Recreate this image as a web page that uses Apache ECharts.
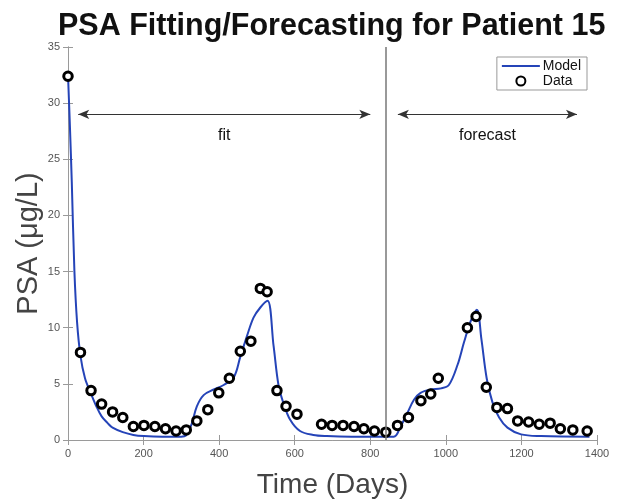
<!DOCTYPE html>
<html>
<head>
<meta charset="utf-8">
<script src="https://cdn.jsdelivr.net/npm/echarts@6/dist/echarts.min.js"></script>
<style>html,body{margin:0;padding:0;background:#fff}#chart{width:640px;height:504px}</style>
</head>
<body>
<div id="chart"></div>
<script>
// Observed PSA data [day, PSA µg/L]
const dataDays = [0,33,61,89,118,145,173,201,230,258,286,313,341,370,399,427,456,484,509,527,553,577,606,671,699,728,757,783,811,841,872,901,934,960,980,1057,1080,1107,1135,1163,1190,1219,1247,1276,1303,1336,1374];
const dataPSA  = [32.4,7.8,4.4,3.2,2.5,2.0,1.2,1.3,1.2,1.0,0.8,0.9,1.7,2.7,4.2,5.5,7.9,8.8,13.5,13.2,4.4,3.0,2.3,1.4,1.3,1.3,1.2,1.0,0.8,0.7,1.3,2.0,3.5,4.1,5.5,10.0,11.0,4.7,2.9,2.8,1.7,1.6,1.4,1.5,1.0,0.9,0.8];
// Model curve [day, PSA]
const modelDays = [0,5,10,17,24,33,45,60,75,89,105,118,145,173,201,250,300,312,327,341,359,386,412,439,456,474,491,509,528,544,557,570,588,614,649,685,750,862,880,898,916,933,960,987,1008,1031,1048,1066,1082,1094,1108,1123,1141,1163,1199,1252,1380];
const modelPSA  = [32.5,28,23,15,10.5,7.5,5.5,4.2,3.0,2.1,1.5,1.1,0.7,0.45,0.35,0.3,0.3,0.4,1.4,3.0,4.0,4.5,4.9,5.6,7.4,9.3,10.9,11.8,12.4,8.4,4.9,3.3,1.8,0.8,0.45,0.35,0.3,0.3,1.2,2.4,3.6,4.2,4.5,4.6,4.9,6.7,8.7,10.6,11.6,9.0,5.5,3.4,2.0,1.1,0.5,0.35,0.3];
// Annotations
const splitDay = 840;
const arrowY = 29;
const fitRange = [27, 800];
const forecastRange = [873, 1347];
const xTicks = {min: 0, max: 1400, interval: 200};
const yTicks = {min: 0, max: 35, interval: 5};

const font = 'Liberation Sans, Arial, Helvetica, sans-serif';
const chart = echarts.init(document.getElementById('chart'), null, {renderer: 'canvas'});
const axisLineStyle = {color: '#9a9a9a', width: 1};
const option = {
  backgroundColor: '#fff',
  animation: false,
  title: {
    text: 'PSA Fitting/Forecasting for Patient 15',
    left: 53, top: 6,
    textStyle: {fontFamily: font, fontWeight: 'bold', fontSize: 30.5, color: '#111'}
  },
  legend: {
    data: [{name: 'Model', icon: 'path://M0,0 L38,0 L38,2.2 L0,2.2 Z'}, {name: 'Data'}],
    orient: 'vertical',
    right: 53, top: 57,
    backgroundColor: '#fff',
    borderColor: '#999', borderWidth: 1,
    padding: [2, 6, 2, 5],
    itemGap: 1,
    itemWidth: 38, itemHeight: 9,
    textStyle: {fontFamily: font, fontSize: 14, lineHeight: 14, color: '#111', padding: [0, 0, 0, -2]}
  },
  grid: {left: 68, right: 43, top: 47, bottom: 58},
  xAxis: [{
    type: 'value', min: xTicks.min, max: xTicks.max, interval: xTicks.interval,
    name: 'Time (Days)', nameLocation: 'middle', nameGap: 31,
    nameTextStyle: {fontFamily: font, fontSize: 28, color: '#444'},
    axisLine: {show: true, lineStyle: axisLineStyle},
    axisTick: {show: true, inside: true, length: 5, lineStyle: axisLineStyle},
    axisLabel: {fontFamily: font, fontSize: 11, color: '#555', margin: 8, formatter: v => String(v)},
    splitLine: {show: false}
  }, {
    type: 'value', position: 'top', min: xTicks.min, max: xTicks.max, interval: xTicks.interval,
    axisLine: {show: true, lineStyle: axisLineStyle},
    axisTick: {show: true, inside: true, length: 5, lineStyle: axisLineStyle},
    axisLabel: {show: false}, splitLine: {show: false}
  }],
  yAxis: [{
    type: 'value', min: yTicks.min, max: yTicks.max, interval: yTicks.interval,
    name: 'PSA (μg/L)', nameLocation: 'middle', nameGap: 25, nameRotate: 90,
    nameMoveOverlap: false,
    nameTextStyle: {fontFamily: font, fontSize: 29, color: '#444'},
    axisLine: {show: true, lineStyle: axisLineStyle},
    axisTick: {show: true, inside: true, length: 5, lineStyle: axisLineStyle},
    axisLabel: {fontFamily: font, fontSize: 11, color: '#555', margin: 8},
    splitLine: {show: false}
  }, {
    type: 'value', position: 'right', min: yTicks.min, max: yTicks.max, interval: yTicks.interval,
    axisLine: {show: true, lineStyle: axisLineStyle},
    axisTick: {show: true, inside: true, length: 5, lineStyle: axisLineStyle},
    axisLabel: {show: false}, splitLine: {show: false}
  }],
  series: [{
    name: 'Annotations', type: 'line', data: [], silent: true,
    markLine: {
      silent: true,
      symbol: ['none', 'none'],
      lineStyle: {color: '#777', width: 1.5, type: 'solid'},
      label: {show: false},
      data: [{xAxis: splitDay}]
    }
  }, {
    name: 'Arrows', type: 'line', data: [], silent: true,
    markLine: {
      silent: true,
      symbol: ['arrow', 'arrow'],
      symbolSize: [7, 11],
      lineStyle: {color: '#333', width: 1, type: 'solid'},
      label: {show: true, position: 'insideMiddleBottom', distance: 13, formatter: '{b}',
               fontFamily: font, fontSize: 16, color: '#111'},
      data: [
        [{name: 'fit', coord: [fitRange[0], arrowY]}, {coord: [fitRange[1], arrowY]}],
        [{name: 'forecast', coord: [forecastRange[0], arrowY]}, {coord: [forecastRange[1], arrowY]}]
      ]
    }
  }, {
    name: 'Model', type: 'line', smooth: 0.35, symbol: 'none',
    data: modelDays.map((d, i) => [d, modelPSA[i]]),
    lineStyle: {color: '#2544b8', width: 2},
    itemStyle: {color: '#2544b8'},
    z: 3
  }, {
    name: 'Data', type: 'scatter', symbol: 'circle', symbolSize: 8.5,
    data: dataDays.map((d, i) => [d, dataPSA[i]]),
    itemStyle: {color: '#fff', borderColor: '#000', borderWidth: 3, opacity: 1},
    z: 4
  }]
};
chart.setOption(option);
</script>
</body>
</html>
